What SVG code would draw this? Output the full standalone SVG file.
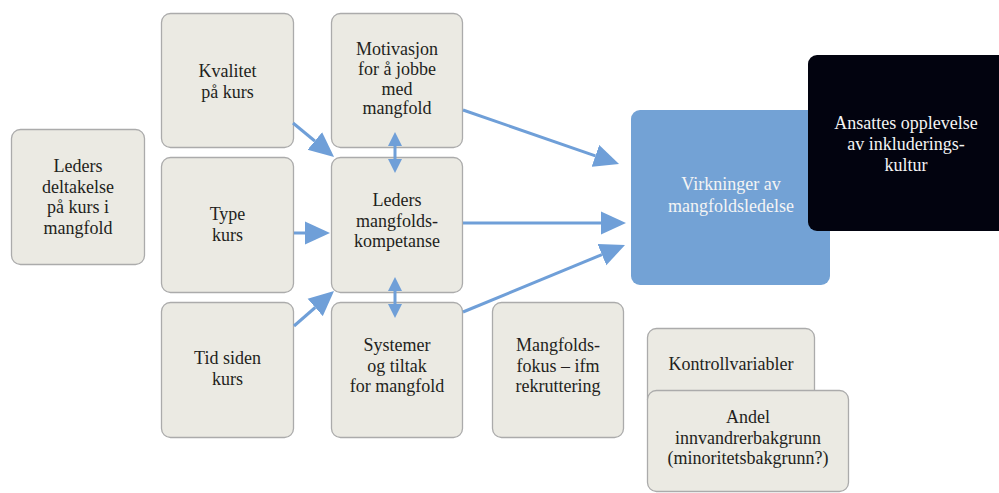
<svg xmlns="http://www.w3.org/2000/svg" width="999" height="493" viewBox="0 0 999 493">
<style>
.n{fill:#EBEAE3;stroke:#ABABAB;stroke-width:1.3}
text{font-family:'Liberation Serif','DejaVu Serif',serif;font-size:18px;fill:#231F20;text-anchor:middle}
text.w{fill:#F4F4F4}
.c{stroke:#6F9FD8;stroke-width:3;fill:none}
.a{marker-end:url(#h)}
.d{marker-start:url(#s);marker-end:url(#s)}
</style>
<defs>
<marker id="h" markerUnits="userSpaceOnUse" markerWidth="26" markerHeight="24" refX="0" refY="11.5" orient="auto" viewBox="0 0 26 23"><path d="M0,0 L25,11.5 L0,23 z" fill="#6F9FD8"/></marker>
<marker id="s" markerUnits="userSpaceOnUse" markerWidth="15" markerHeight="15" refX="0" refY="7" orient="auto-start-reverse" viewBox="0 0 15 14"><path d="M0,0 L14,7 L0,14 z" fill="#6F9FD8"/></marker>
</defs>
<rect width="999" height="493" fill="#FFFFFF"/>
<g id="leders-deltakelse"><rect class="n" x="11.5" y="129.5" width="133" height="135" rx="9"/><text font-family="Liberation Serif, serif"><tspan x="78" y="172">Leders</tspan><tspan x="78" y="192.5">deltakelse</tspan><tspan x="78" y="213">på kurs i</tspan><tspan x="78" y="233.5">mangfold</tspan></text></g>
<g id="kvalitet"><rect class="n" x="161.5" y="13.5" width="132" height="134" rx="9"/><text><tspan x="227.5" y="77">Kvalitet</tspan><tspan x="227.5" y="97.5">på kurs</tspan></text></g>
<g id="type"><rect class="n" x="161.5" y="157.5" width="132" height="135" rx="9"/><text><tspan x="227.5" y="220">Type</tspan><tspan x="227.5" y="241">kurs</tspan></text></g>
<g id="tid"><rect class="n" x="161.5" y="302.5" width="132" height="135" rx="9"/><text><tspan x="227.5" y="364">Tid siden</tspan><tspan x="227.5" y="385">kurs</tspan></text></g>
<g id="motivasjon"><rect class="n" x="331.5" y="13.5" width="131" height="134" rx="9"/><text><tspan x="397" y="55">Motivasjon</tspan><tspan x="397" y="75">for å jobbe</tspan><tspan x="397" y="94.5">med</tspan><tspan x="397" y="114">mangfold</tspan></text></g>
<g id="kompetanse"><rect class="n" x="331.5" y="157.5" width="131" height="135" rx="9"/><text><tspan x="397" y="205.5">Leders</tspan><tspan x="397" y="226.5">mangfolds-</tspan><tspan x="397" y="247">kompetanse</tspan></text></g>
<g id="systemer"><rect class="n" x="331.5" y="302.5" width="131" height="135" rx="9"/><text><tspan x="397" y="351">Systemer</tspan><tspan x="397" y="371.5">og tiltak</tspan><tspan x="397" y="392">for mangfold</tspan></text></g>
<g id="mangfoldsfokus"><rect class="n" x="492.5" y="302.5" width="131" height="135" rx="9"/><text><tspan x="558" y="351">Mangfolds-</tspan><tspan x="558" y="371.5">fokus – ifm</tspan><tspan x="558" y="392">rekruttering</tspan></text></g>
<g id="virkninger"><rect x="631" y="110" width="199" height="175" rx="9" fill="#73A2D5"/><text class="w"><tspan x="731" y="190">Virkninger av</tspan><tspan x="731" y="212">mangfoldsledelse</tspan></text></g>
<g id="ansattes"><rect x="808" y="55" width="200" height="176" rx="9" fill="#02030F"/><text class="w"><tspan x="906" y="129">Ansattes opplevelse</tspan><tspan x="906" y="150">av inkluderings-</tspan><tspan x="906" y="170.5">kultur</tspan></text></g>
<g id="kontrollvariabler"><rect class="n" x="647.5" y="328.5" width="167" height="80" rx="9"/><text><tspan x="731" y="370">Kontrollvariabler</tspan></text></g>
<g id="andel"><rect class="n" x="647.5" y="390.5" width="201" height="101" rx="9"/><text><tspan x="748" y="423">Andel</tspan><tspan x="748" y="443.5">innvandrerbakgrunn</tspan><tspan x="748" y="464">(minoritetsbakgrunn?)</tspan></text></g>
<g id="connectors">
<line class="c a" x1="293" y1="123" x2="314.8" y2="141"/>
<line class="c a" x1="294" y1="233" x2="305" y2="233"/>
<line class="c a" x1="294" y1="326" x2="315.2" y2="307.5"/>
<line class="c a" x1="463" y1="110" x2="595.4" y2="155.8"/>
<line class="c a" x1="463" y1="223" x2="601" y2="223"/>
<line class="c a" x1="463" y1="312" x2="601.9" y2="254.6"/>
<line class="c d" x1="395" y1="146" x2="395" y2="159"/>
<line class="c d" x1="395" y1="291" x2="395" y2="304"/>
</g>
</svg>
